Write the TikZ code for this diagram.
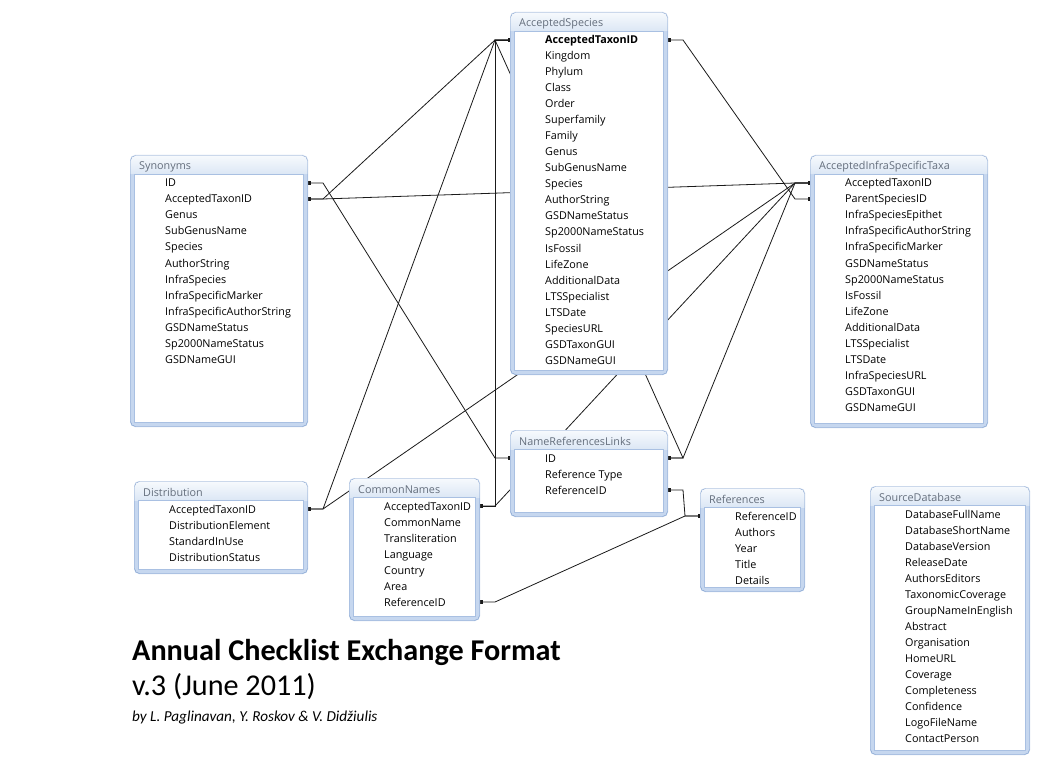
\documentclass[tikz,border=0pt]{standalone}
\usepackage{fontspec}
\setmainfont{Carlito}
\newfontfamily\tblfont{Open Sans}
\usetikzlibrary{arrows.meta}
\pgfdeclarelayer{bg}
\pgfdeclarelayer{paper}
\pgfsetlayers{paper,bg,main}
\definecolor{framefill}{HTML}{C6D7EF}
\definecolor{framedraw}{HTML}{7B9BCB}
\definecolor{titletop}{HTML}{F7FAFD}
\definecolor{titlebot}{HTML}{DCE7F5}
\definecolor{bodydraw}{HTML}{A9C0E2}
\definecolor{titletext}{HTML}{646E7C}
\definecolor{relcol}{HTML}{1A1A1A}
\tikzset{
  tblbox/.style={fill=framefill, rounded corners=5, inner sep=0, outer sep=0, draw=none},
  tbltitle/.style={font=\tblfont\fontsize{10.8}{13}\selectfont, text=titletext, anchor=base west, inner sep=0},
  tblrow/.style={font=\tblfont\fontsize{10.8}{13}\selectfont, text=black, anchor=base west, inner sep=0},
  rel/.style={draw=relcol, line width=0.8, {Square[length=2.5pt,width=3.2pt]}-{Square[length=2.5pt,width=3.2pt]}},
  heading/.style={anchor=base west, inner sep=0},
}
\newcommand\dbtable[7]{%
  \node[tblbox, minimum width={#4-#2}, minimum height={#5-#3}, anchor=north west] (#1) at (#2,#3) {};
  \begin{scope}
    \clip[rounded corners=5] (#2,#3) rectangle (#4,#5);
    \shade[top color=titletop, bottom color=titlebot] (#2,#3) rectangle (#4,#3+19);
  \end{scope}
  \draw[bodydraw, fill=white] (#2+4.5,#3+19.5) rectangle (#4-4.5,#5-4.5);
  \draw[framedraw, rounded corners=5] (#2+.5,#3+.5) rectangle (#4-.5,#5-.5);
  \node[tbltitle] (#1-title) at (#2+9,#3+15) {#6};
  \foreach \rowtxt [count=\k] in {#7} {
    \node[tblrow] (#1-\k) at (#2+35,#3+12+16*\k+4) {\rowtxt};
    \coordinate (#1-\k-L) at (#2,#3+12+16*\k);
    \coordinate (#1-\k-R) at (#4,#3+12+16*\k);
    \coordinate (#1-\k-Ls) at (#2-15,#3+12+16*\k);
    \coordinate (#1-\k-Rs) at (#4+15,#3+12+16*\k);
  }
}
\begin{document}
\begin{tikzpicture}[x=1pt,y=-1pt]
\begin{pgfonlayer}{paper}
\fill[white] (0,0) rectangle (1051,767);
\end{pgfonlayer}
\useasboundingbox (0,0) rectangle (1051,767);

\dbtable{as}{510}{12}{668}{375}{AcceptedSpecies}{{\bfseries AcceptedTaxonID},Kingdom,Phylum,Class,Order,Superfamily,Family,Genus,SubGenusName,Species,AuthorString,GSDNameStatus,Sp2000NameStatus,IsFossil,LifeZone,AdditionalData,LTSSpecialist,LTSDate,SpeciesURL,GSDTaxonGUI,GSDNameGUI}
\dbtable{syn}{130}{155}{308}{427}{Synonyms}{ID,AcceptedTaxonID,Genus,SubGenusName,Species,AuthorString,InfraSpecies,InfraSpecificMarker,InfraSpecificAuthorString,GSDNameStatus,Sp2000NameStatus,GSDNameGUI}
\dbtable{aist}{810}{155}{988}{428}{AcceptedInfraSpecificTaxa}{AcceptedTaxonID,ParentSpeciesID,InfraSpeciesEpithet,InfraSpecificAuthorString,InfraSpecificMarker,GSDNameStatus,Sp2000NameStatus,IsFossil,LifeZone,AdditionalData,LTSSpecialist,LTSDate,InfraSpeciesURL,GSDTaxonGUI,GSDNameGUI}
\dbtable{dist}{134}{481}{308}{574}{Distribution}{AcceptedTaxonID,DistributionElement,StandardInUse,DistributionStatus}
\dbtable{cn}{349}{478}{480}{621}{CommonNames}{AcceptedTaxonID,CommonName,Transliteration,Language,Country,Area,ReferenceID}
\dbtable{nrl}{510}{430}{668}{517}{NameReferencesLinks}{ID,Reference Type,ReferenceID}
\dbtable{ref}{700}{488}{805}{592}{References}{ReferenceID,Authors,Year,Title,Details}
\dbtable{src}{870}{486}{1030}{755}{SourceDatabase}{DatabaseFullName,DatabaseShortName,DatabaseVersion,ReleaseDate,AuthorsEditors,TaxonomicCoverage,GroupNameInEnglish,Abstract,Organisation,HomeURL,Coverage,Completeness,Confidence,LogoFileName,ContactPerson}

\begin{pgfonlayer}{bg}
\draw[rel] (as-1-L) -- (as-1-Ls) -- (syn-2-Rs) -- (syn-2-R);
\draw[rel] (as-1-L) -- (as-1-Ls) -- (dist-1-Rs) -- (dist-1-R);
\draw[rel] (as-1-L) -- (as-1-Ls) -- (cn-1-Rs) -- (cn-1-R);
\draw[rel] (as-1-L) -- (as-1-Ls) -- (nrl-1-Rs) -- (nrl-1-R);
\draw[rel] (as-1-R) -- (as-1-Rs) -- (aist-2-Ls) -- (aist-2-L);
\draw[rel] (syn-1-R) -- (syn-1-Rs) -- (nrl-1-Ls) -- (nrl-1-L);
\draw[rel] (syn-2-R) -- (syn-2-Rs) -- (aist-1-Ls) -- (aist-1-L);
\draw[rel] (dist-1-R) -- (dist-1-Rs) -- (aist-1-Ls) -- (aist-1-L);
\draw[rel] (cn-1-R) -- (cn-1-Rs) -- (aist-1-Ls) -- (aist-1-L);
\draw[rel] (nrl-1-R) -- (nrl-1-Rs) -- (aist-1-Ls) -- (aist-1-L);
\draw[rel] (nrl-3-R) -- (nrl-3-Rs) -- (ref-1-Ls) -- (ref-1-L);
\draw[rel] (cn-7-R) -- (cn-7-Rs) -- (ref-1-Ls) -- (ref-1-L);
\end{pgfonlayer}

\node[heading, font=\bfseries\fontsize{30.2}{36}\selectfont] (ttl) at (132,660) {Annual Checklist Exchange Format};
\node[heading, font=\fontsize{30.2}{36}\selectfont] (ver) at (132,695) {v.3 (June 2011)};
\node[heading, font=\itshape\fontsize{15.2}{18}\selectfont] (by) at (132,721) {by L. Paglinavan, Y. Roskov \& V. Didžiulis};
\end{tikzpicture}
\end{document}
